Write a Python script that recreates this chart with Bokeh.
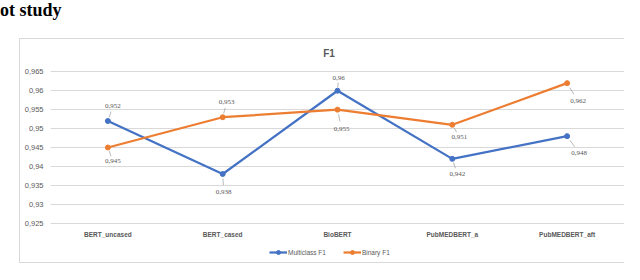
from bokeh.plotting import figure
from bokeh.layouts import column
from bokeh.models import (FactorRange, Range1d, FixedTicker, Legend, LegendItem, Label, Div,
                          ColumnDataSource, CustomJSTickFormatter)
from bokeh.embed import file_html
from bokeh.resources import INLINE

# ---- data ----
models = ["BERT_uncased", "BERT_cased", "BioBERT", "PubMEDBERT_a", "PubMEDBERT_aft"]
multiclass_f1 = [0.952, 0.938, 0.960, 0.942, 0.948]
binary_f1 = [0.945, 0.953, 0.955, 0.951, 0.962]
y_ticks = [0.925, 0.93, 0.935, 0.94, 0.945, 0.95, 0.955, 0.96, 0.965]
series_names = ["Multiclass F1", "Binary F1"]
chart_title = "F1"
heading = "ot study"

# ---- style (label offsets in px) ----
mc_dx = [5, 1, 1, 5, 12]
mc_dy = [-15, 18, -13, 15, 17]
bn_dx = [5, 4, 4, 7, 11]
bn_dy = [14, -15, 19, 12, 18]
BLUE = "#4472C4"
ORANGE = "#ED7D31"
GRID = "#D9D9D9"
TXT = "#595959"
FONT = "Liberation Sans"

W = 624
H_HEAD, H_MAIN, H_LEG = 38, 202, 24
ML, MR, MT, MB = 50, 0, 0, 15
frame_w = W - ML - MR
frame_h = H_MAIN - MT - MB
y0, y1 = 0.92439, 0.97380
px_per_y = frame_h / (y1 - y0)
px_per_x = frame_w / len(models)


def fmt(v):
    s = f"{v:.3f}".rstrip("0")
    return s.replace(".", ",")


LG = "linear-gradient(#D9D9D9,#D9D9D9)"
main_css = {
    "background-image": f"{LG},{LG}",
    "background-size": f"1px {H_MAIN}px, 606px 1px",
    "background-position": "19px 0px, 19px 0px",
    "background-repeat": "no-repeat",
    "background-color": "white",
}
leg_css = {
    "background-image": f"{LG},{LG}",
    "background-size": "1px 23px, 606px 1px",
    "background-position": "19px 0px, 19px 22px",
    "background-repeat": "no-repeat",
    "background-color": "white",
}

head = Div(text=heading, width=W, height=H_HEAD, margin=0,
           styles={"font-family": "Liberation Serif", "font-weight": "bold",
                   "font-size": "18px", "line-height": "20px", "color": "black",
                   "padding": "0"})

p = figure(width=W, height=H_MAIN, x_range=FactorRange(*models), y_range=Range1d(y0, y1),
           output_backend="svg", toolbar_location=None, title=None,
           min_border_left=ML, min_border_right=MR, min_border_top=MT, min_border_bottom=MB,
           styles=main_css)
p.background_fill_color = None
p.border_fill_color = None
p.outline_line_color = None

p.xgrid.grid_line_color = None
p.ygrid.ticker = FixedTicker(ticks=y_ticks)
p.ygrid.grid_line_color = GRID
p.ygrid.grid_line_width = 1

ya = p.yaxis[0]
ya.ticker = FixedTicker(ticks=y_ticks)
ya.formatter = CustomJSTickFormatter(code="return tick.toFixed(3).replace(/0+$/,'').replace('.',',');")
ya.axis_line_color = None
ya.major_tick_line_color = None
ya.minor_tick_line_color = None
ya.major_tick_out = 0
ya.major_tick_in = 0
ya.major_label_standoff = 7
ya.major_label_text_font = FONT
ya.major_label_text_font_size = "7.5px"
ya.major_label_text_color = TXT

xa = p.xaxis[0]
xa.axis_line_color = None
xa.major_tick_line_color = None
xa.minor_tick_line_color = None
xa.major_tick_out = 0
xa.major_tick_in = 0
xa.major_label_standoff = 5
xa.major_label_text_font = FONT
xa.major_label_text_font_style = "bold"
xa.major_label_text_font_size = "6.5px"
xa.major_label_text_color = TXT


def leader(vals, dx, dy, f0=0.25, f1=0.62):
    xs0, ys0, xs1, ys1 = [], [], [], []
    for i, v in enumerate(vals):
        xs0.append(i + 0.5 + dx[i] * f0 / px_per_x)
        xs1.append(i + 0.5 + dx[i] * f1 / px_per_x)
        ys0.append(v - dy[i] * f0 / px_per_y)
        ys1.append(v - dy[i] * f1 / px_per_y)
    return dict(x0=xs0, y0=ys0, x1=xs1, y1=ys1)


series = [(multiclass_f1, BLUE, mc_dx, mc_dy), (binary_f1, ORANGE, bn_dx, bn_dy)]
for vals, col, dx, dy in series:
    src = ColumnDataSource(dict(x=models, y=vals, t=[fmt(v) for v in vals], dx=dx, dy=dy))
    lsrc = ColumnDataSource(leader(vals, dx, dy))
    p.segment(x0="x0", y0="y0", x1="x1", y1="y1", source=lsrc, line_color="#A6A6A6", line_width=0.8)
    p.line("x", "y", source=src, line_color=col, line_width=2.25)
    p.scatter("x", "y", source=src, size=5, fill_color=col, line_color=col)
    p.text("x", "y", text="t", source=src, x_offset="dx", y_offset="dy",
           text_align="center", text_baseline="middle",
           text_font=FONT, text_font_size="7px", text_color=TXT)

p.add_layout(Label(x=278.5, y=frame_h - 15, x_units="screen", y_units="screen",
                   text=chart_title, text_align="center", text_baseline="middle",
                   text_font=FONT, text_font_style="bold", text_font_size="10px",
                   text_color=TXT))

# ---- legend strip ----
q = figure(width=W, height=H_LEG, x_range=Range1d(0, 1), y_range=Range1d(0, 1),
           output_backend="svg", toolbar_location=None, title=None,
           x_axis_location=None, y_axis_location=None,
           min_border_left=0, min_border_right=0, min_border_top=0, min_border_bottom=0,
           styles=leg_css)
q.background_fill_color = None
q.border_fill_color = None
q.outline_line_color = None
q.grid.visible = False
items = []
for name, (vals, col, dx, dy) in zip(series_names, series):
    lr = q.line(x=[-5, -4], y=[-5, -4], line_color=col, line_width=2.25)
    sr = q.scatter(x=[-5], y=[-5], size=5, fill_color=col, line_color=col)
    items.append(LegendItem(label=name, renderers=[lr, sr]))
legend = Legend(items=items, location=(219, 7), orientation="horizontal", padding=0, margin=0,
                spacing=17, label_standoff=1, glyph_width=18, glyph_height=10,
                label_height=10, border_line_color=None, background_fill_alpha=0,
                label_text_font=FONT, label_text_font_size="6.5px", label_text_color=TXT)
q.add_layout(legend)

layout = column(head, p, q, spacing=0)
open("out.html", "w").write(file_html(layout, INLINE))
